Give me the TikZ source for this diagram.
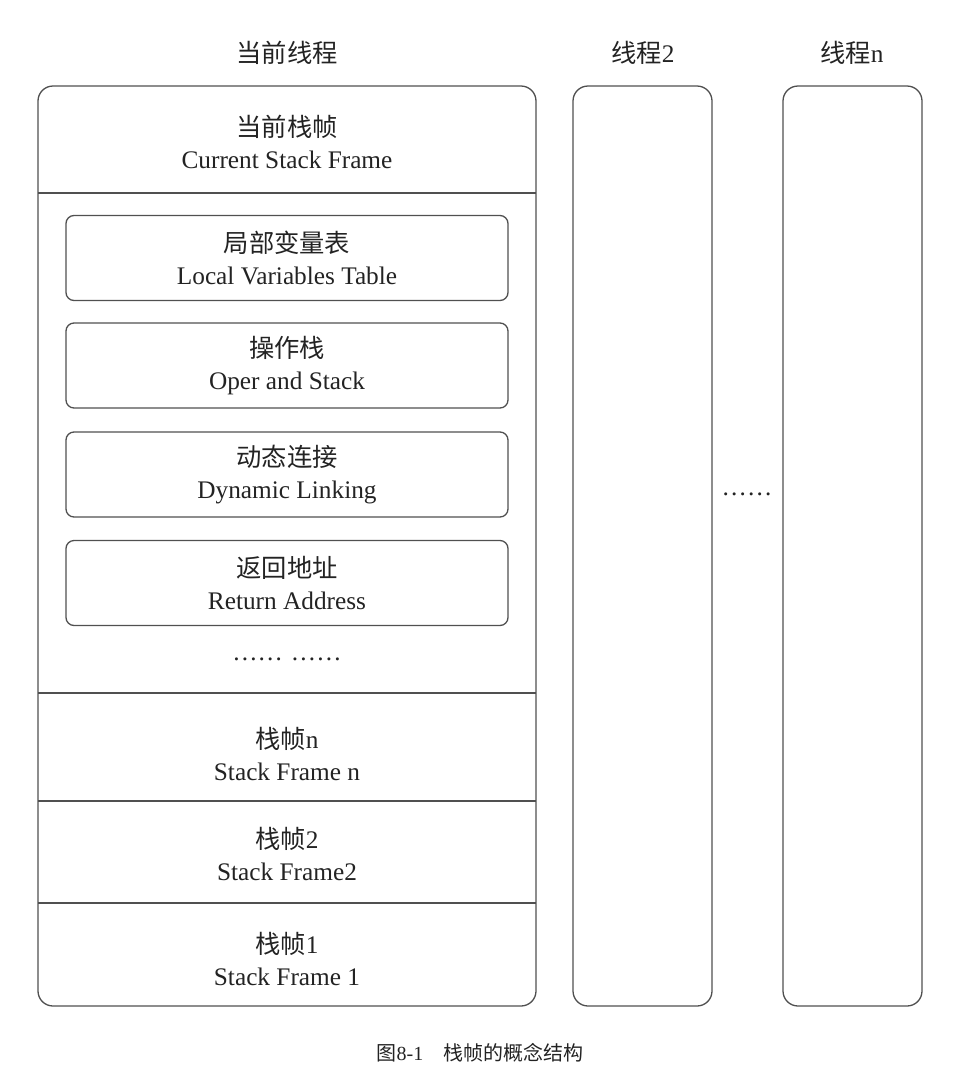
\documentclass[tikz,border=0pt]{standalone}
\usepackage{fontspec}
\setmainfont{Liberation Serif}
\newfontfamily\cjk{Noto Sans CJK SC}
\usepackage{tikz}
\newcommand{\zh}[1]{{\cjk #1}}

\begin{document}
\begin{tikzpicture}[x=1pt,y=1pt,yscale=-1,xscale=1,
  line width=1.3pt,
  txt/.style={inner sep=0.75pt,align=center,text={rgb,255:red,35;green,35;blue,35},font=\fontsize{25.3}{32}\selectfont},
  framebox/.style={txt,draw={rgb,255:red,80;green,80;blue,80},rounded corners=8,minimum width=442,minimum height=85}
]
%set diagram left start at 0, and has height of 1080
\path[use as bounding box] (0,0) rectangle (980,1080);

%Rounded Rect [current thread]
\draw [color={rgb,255:red,80;green,80;blue,80},rounded corners=15] (38,86) rectangle (536,1006) ;
%Rounded Rect [thread 2]
\draw [color={rgb,255:red,80;green,80;blue,80},rounded corners=15] (573,86) rectangle (712,1006) ;
%Rounded Rect [thread n]
\draw [color={rgb,255:red,80;green,80;blue,80},rounded corners=15] (783,86) rectangle (922,1006) ;

%Straight Lines
\draw [color={rgb,255:red,80;green,80;blue,80}] (38,193) -- (536,193) ;
\draw [color={rgb,255:red,80;green,80;blue,80}] (38,693) -- (536,693) ;
\draw [color={rgb,255:red,80;green,80;blue,80}] (38,801) -- (536,801) ;
\draw [color={rgb,255:red,80;green,80;blue,80}] (38,903) -- (536,903) ;

% Text Node
\node [txt] (curthread) at (287,53) {\zh{当前线程}};
% Text Node
\node [txt] (thread2) at (643,53) {\zh{线程}2};
% Text Node
\node [txt] (threadn) at (852,53) {\zh{线程}n};

% Text Node
\node [txt] (curframe) at (287,142) {\zh{当前栈帧}\\Current Stack Frame};

% Frame boxes
\node [framebox] (locals) at (287,258) {\zh{局部变量表}\\Local Variables Table};
\node [framebox] (operand) at (287,365.5) {\zh{操作栈}\\Oper and Stack};
\node [framebox] (dynlink) at (287,474.5) {\zh{动态连接}\\Dynamic Linking};
\node [framebox] (retaddr) at (287,583) {\zh{返回地址}\\Return Address};

% Text Node
\node [txt] (moredots) at (287,659) {……\hspace{8pt}……};
% Text Node
\node [txt] (framen) at (287,754) {\zh{栈帧}n\\Stack Frame n};
% Text Node
\node [txt] (frame2) at (287,854) {\zh{栈帧}2\\Stack Frame2};
% Text Node
\node [txt] (frame1) at (287,959) {\zh{栈帧}1\\Stack Frame 1};

% Text Node
\node [txt] (threaddots) at (747,494) {……};

% Text Node
\node [txt,font=\fontsize{20}{24}\selectfont] (caption) at (480,1053) {\zh{图}8-1\quad\zh{栈帧的概念结构}};

\end{tikzpicture}
\end{document}
